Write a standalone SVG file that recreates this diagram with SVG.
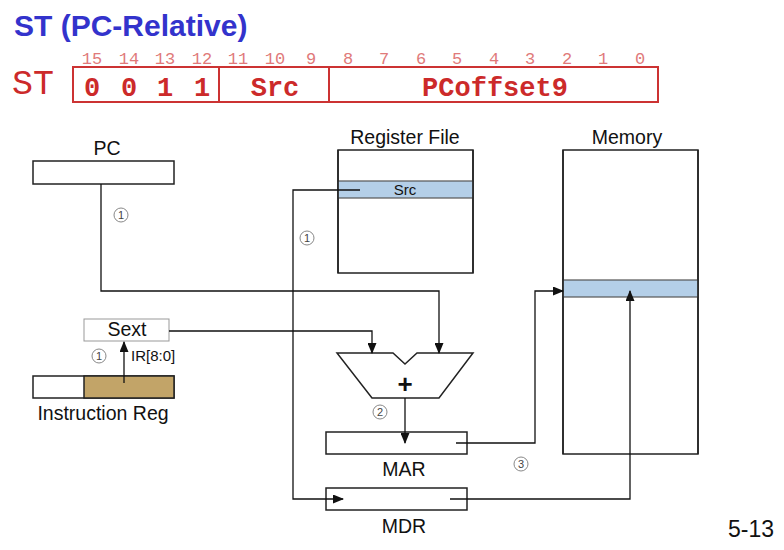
<svg xmlns="http://www.w3.org/2000/svg" width="784" height="550" viewBox="0 0 784 550">
<style>
.ttl{font-family:"Liberation Sans",Arial,sans-serif;font-weight:bold;font-size:30px;fill:#3333cc}
.bit{font-family:"Liberation Mono","Courier New",monospace;font-size:17px;fill:#e07a7a;text-anchor:middle}
.fld{font-family:"Liberation Mono","Courier New",monospace;font-weight:bold;font-size:27px;fill:#cc2a2a;text-anchor:middle}
.lbl{font-family:"Liberation Sans",Arial,sans-serif;font-size:19.5px;fill:#111;text-anchor:middle}
.sm{font-family:"Liberation Sans",Arial,sans-serif;font-size:15px;fill:#111}
.box{fill:#fff;stroke:#222;stroke-width:1.5}
.row{fill:#b4cfe8;stroke:#555;stroke-width:1.2}
.w{fill:none;stroke:#111;stroke-width:1.3}
.cir{fill:#fff;stroke:#888;stroke-width:1}
.cn{font-family:"Liberation Sans",Arial,sans-serif;font-size:11px;fill:#444;text-anchor:middle}
</style>
<defs>
<marker id="ah" markerWidth="11" markerHeight="9" refX="10" refY="4.5" orient="auto" markerUnits="userSpaceOnUse">
<path d="M0,0 L11,4.5 L0,9 z" fill="#111"/>
</marker>
</defs>
<rect width="784" height="550" fill="#fff"/>
<text class="ttl" x="14" y="36">ST (PC-Relative)</text>

<g id="format">
<text x="12" y="94" font-family="'Liberation Mono','Courier New',monospace" font-size="35" fill="#cc2a2a">ST</text>
<rect x="73" y="67" width="585" height="35" fill="none" stroke="#cc3333" stroke-width="2"/>
<line x1="219" y1="67" x2="219" y2="102" stroke="#cc3333" stroke-width="2"/>
<line x1="329" y1="67" x2="329" y2="102" stroke="#cc3333" stroke-width="2"/>
<text class="bit" x="92" y="64">15</text><text class="bit" x="129" y="64">14</text><text class="bit" x="165" y="64">13</text><text class="bit" x="202" y="64">12</text>
<text class="bit" x="238" y="64">11</text><text class="bit" x="275" y="64">10</text><text class="bit" x="311" y="64">9</text><text class="bit" x="348" y="64">8</text>
<text class="bit" x="384" y="64">7</text><text class="bit" x="421" y="64">6</text><text class="bit" x="457" y="64">5</text><text class="bit" x="494" y="64">4</text>
<text class="bit" x="530" y="64">3</text><text class="bit" x="567" y="64">2</text><text class="bit" x="603" y="64">1</text><text class="bit" x="640" y="64">0</text>
<text class="fld" x="92" y="96">0</text><text class="fld" x="129" y="96">0</text><text class="fld" x="165" y="96">1</text><text class="fld" x="202" y="96">1</text>
<text class="fld" x="275" y="96">Src</text>
<text class="fld" x="495" y="96">PCoffset9</text>
</g>

<g id="pc">
<text class="lbl" x="107" y="155">PC</text>
<rect class="box" x="33" y="161" width="141" height="23"/>
</g>
<g id="step1a"><circle class="cir" cx="121" cy="215" r="7"/><text class="cn" x="121" y="219">1</text></g>

<g id="regfile">
<text class="lbl" x="405" y="144">Register File</text>
<rect class="box" x="338" y="150" width="135" height="123"/>
<rect class="row" x="338" y="181" width="135" height="17"/>
<text class="sm" x="405" y="195" text-anchor="middle">Src</text>
<line x1="338" y1="150" x2="338" y2="273" stroke="#222" stroke-width="1.5"/>
<line x1="473" y1="150" x2="473" y2="273" stroke="#222" stroke-width="1.5"/>
</g>
<g id="step1b"><circle class="cir" cx="307" cy="238" r="7"/><text class="cn" x="307" y="242">1</text></g>

<g id="memory">
<text class="lbl" x="627" y="144">Memory</text>
<rect class="box" x="563" y="150" width="135" height="304"/>
<rect class="row" x="563" y="280" width="135" height="17"/>
<line x1="563" y1="150" x2="563" y2="454" stroke="#222" stroke-width="1.5"/>
<line x1="698" y1="150" x2="698" y2="454" stroke="#222" stroke-width="1.5"/>
</g>

<g id="sext">
<rect x="84" y="319" width="85" height="22" fill="#fff" stroke="#999" stroke-width="1"/>
<text class="lbl" x="127" y="336" font-size="17">Sext</text>
</g>
<g id="step1c"><circle class="cir" cx="99" cy="356" r="7"/><text class="cn" x="99" y="360">1</text></g>
<text class="sm" x="131" y="361">IR[8:0]</text>

<g id="ir">
<rect class="box" x="33" y="376" width="141" height="22"/>
<rect x="84" y="376" width="90" height="22" fill="#c2a468" stroke="#222" stroke-width="1.5"/>
<text class="lbl" x="103" y="420">Instruction Reg</text>
</g>

<g id="alu">
<polygon points="337,353 393,353 405,364 417,353 473,353 439,398 372,398" fill="#fff" stroke="#222" stroke-width="1.5"/>
<text x="405" y="393" font-family="'Liberation Sans',Arial,sans-serif" font-weight="bold" font-size="26" text-anchor="middle" fill="#111">+</text>
</g>
<g id="step2"><circle class="cir" cx="380" cy="412" r="7"/><text class="cn" x="380" y="416">2</text></g>

<g id="mar">
<rect x="326" y="432" width="141" height="22" fill="#fff" stroke="#222" stroke-width="1.5"/>
<text class="lbl" x="404" y="476" font-size="18">MAR</text>
</g>
<g id="step3"><circle class="cir" cx="521" cy="464" r="7"/><text class="cn" x="521" y="468">3</text></g>

<g id="mdr">
<rect x="326" y="488" width="141" height="22" fill="#fff" stroke="#222" stroke-width="1.5"/>
<text class="lbl" x="404" y="533" font-size="18">MDR</text>
</g>

<g id="connectors">
<polyline class="w" points="101,184 101,291 439,291 439,353" marker-end="url(#ah)"/>
<polyline class="w" points="169,331 372,331 372,353" marker-end="url(#ah)"/>
<polyline class="w" points="124,383 124,342" marker-end="url(#ah)"/>
<polyline class="w" points="360,190 293,190 293,499 343,499" marker-end="url(#ah)"/>
<polyline class="w" points="405,398 405,443" marker-end="url(#ah)"/>
<polyline class="w" points="456,443 535,443 535,291 563,291" marker-end="url(#ah)"/>
<polyline class="w" points="450,499 630,499 630,291" marker-end="url(#ah)"/>
</g>

<text x="728" y="537" font-family="'Liberation Sans',Arial,sans-serif" font-size="23" fill="#111">5-13</text>
</svg>
